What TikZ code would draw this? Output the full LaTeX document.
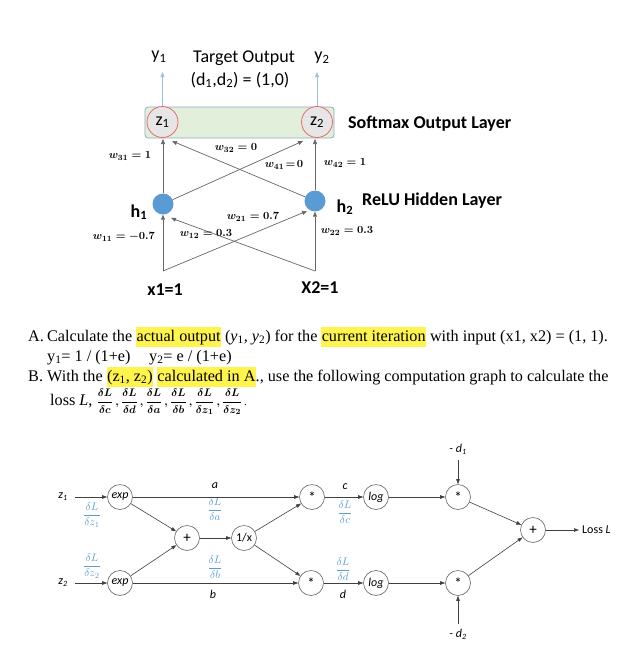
\documentclass[tikz,border=0pt]{standalone}
\usepackage{amsmath}
\usepackage{fontspec}
\setmainfont{Liberation Serif}
\newfontfamily\calib{Carlito}
\usetikzlibrary{arrows.meta}
\definecolor{bandfill}{HTML}{E2EFDA}
\definecolor{banddraw}{HTML}{8FAAC4}
\definecolor{zred}{HTML}{E86A6A}
\definecolor{zfill}{HTML}{E6E6E6}
\definecolor{hblue}{HTML}{5B9BD5}
\definecolor{lblue}{HTML}{9DC3E6}
\definecolor{hly}{HTML}{FFF34D}
\definecolor{linegray}{HTML}{666666}
\newcommand{\hlt}[1]{{\setlength{\fboxsep}{0.3pt}\colorbox{hly}{\strut #1}}}
\newcommand{\dfr}[2]{\ensuremath{\displaystyle\frac{#1}{#2}}}
\begin{document}
\begin{tikzpicture}[x=1pt,y=-1pt,
  zc/.style={circle,draw=zred,fill=zfill,line width=0.8pt,minimum size=31pt,inner sep=0pt,font=\calib\fontsize{18}{19}\selectfont},
  hid/.style={circle,fill=hblue,minimum size=21pt,inner sep=0pt},
  arr/.style={draw=linegray,line width=0.7pt,-{Triangle[length=5pt,width=4pt]}},
  barr/.style={draw=lblue,line width=0.9pt,-{Triangle[length=5pt,width=4pt]}},
  wl/.style={font=\fontsize{11}{12}\selectfont,inner sep=0pt},
  sl/.style={font=\calib\fontsize{18}{20}\selectfont,inner sep=0pt},
  bl/.style={font=\calib\bfseries\fontsize{18}{20}\selectfont,inner sep=0pt},
  txt/.style={anchor=base west,inner sep=0pt,font=\fontsize{16.2}{20}\selectfont},
  op/.style={circle,draw=linegray,line width=0.6pt,minimum size=25pt,inner sep=0pt,font=\calib\fontsize{12}{13}\selectfont},
  big/.style={font=\calib\fontsize{15}{16}\selectfont},
  gl/.style={font=\calib\itshape\fontsize{12}{13}\selectfont,inner sep=0pt},
  gf/.style={text=hblue,font=\fontsize{11}{12}\selectfont,inner sep=0pt},
  garr/.style={draw=black!75,line width=0.6pt,-{Triangle[length=5pt,width=3.5pt]}}
]
\useasboundingbox (0,0) rectangle (644,646);
% ---------- top network ----------
\node[draw=banddraw,fill=bandfill,rounded corners=3pt,line width=0.8pt,minimum width=189pt,minimum height=31pt,inner sep=0pt] (band) at (239.5,122.5) {};
\node[zc] (z1) at (162.5,122) {z\textsubscript{1}};
\node[zc] (z2) at (317,122) {z\textsubscript{2}};
\node[sl] (y1l) at (159,57) {y\textsubscript{1}};
\node[sl] (y2l) at (322,58) {y\textsubscript{2}};
\node[sl] (tgt) at (244,58) {Target Output};
\node[sl] (dd) at (240,80) {(d\textsubscript{1},d\textsubscript{2}) = (1,0)};
\coordinate (y1a) at (162.5,72);
\coordinate (y2a) at (317,72);
\draw[barr] (z1.north) -- (y1a);
\draw[barr] (z2.north) -- (y2a);
\node[bl,anchor=west] (soft) at (348,124) {Softmax Output Layer};
\node[hid] (h1) at (163,204) {};
\node[hid] (h2) at (315,201) {};
\node[bl] (h1l) at (139,212) {h\textsubscript{1}};
\node[bl] (h2l) at (345,207) {h\textsubscript{2}};
\node[bl,anchor=west] (relu) at (362,201) {ReLU Hidden Layer};
\coordinate (x1p) at (163,271);
\coordinate (x2p) at (315,271);
\node[bl] (x1l) at (165,290) {x1=1};
\node[bl] (x2l) at (320,288) {X2=1};
\coordinate (z1b) at (163,139);
\coordinate (z2b) at (315,139);
\coordinate (z1in) at (172,141);
\coordinate (z2in) at (303,141);
\coordinate (h1in) at (171,218);
\coordinate (h2in) at (307,211);
\draw[arr] (x1p) -- (h1);
\draw[arr] (x1p) -- (h2in);
\draw[arr] (x2p) -- (h2);
\draw[arr] (x2p) -- (h1in);
\draw[arr] (h1) -- (z1b);
\draw[arr] (h1) -- (z2in);
\draw[arr] (h2) -- (z1in);
\draw[arr] (h2) -- (z2b);
\node[wl] (w31) at (130,156) {$\boldsymbol{w_{31}=1}$};
\node[wl] (w32) at (236,148) {$\boldsymbol{w_{32}=0}$};
\node[wl] (w41) at (284,165) {$\boldsymbol{w_{41}\!=\!0}$};
\node[wl] (w42) at (345,163) {$\boldsymbol{w_{42}=1}$};
\node[wl] (w21) at (253,217) {$\boldsymbol{w_{21}=0.7}$};
\node[wl] (w12) at (206,234) {$\boldsymbol{w_{12}=0.3}$};
\node[wl] (w11) at (124,237) {$\boldsymbol{w_{11}=-0.7}$};
\node[wl] (w22) at (347,231) {$\boldsymbol{w_{22}=0.3}$};
% ---------- text ----------
\node[txt] (la) at (28,341) {\makebox[19pt][l]{A.}Calculate the \hlt{actual output} (\textit{y}\textsubscript{1}, \textit{y}\textsubscript{2}) for the \hlt{current iteration} with input (x1, x2) = (1, 1).};
\node[txt] (ly) at (47,361) {y\textsubscript{1}= 1 / (1+e)\hspace{0.9em} y\textsubscript{2}= e / (1+e)};
\node[txt] (lb) at (28,381) {\makebox[19pt][l]{B.}With the \hlt{(z\textsubscript{1}, z\textsubscript{2})} \hlt{calculated in A}., use the following computation graph to calculate the};
\node[txt] (ll) at (50,405) {loss \textit{L}, \fontsize{11}{12}\selectfont$\boldsymbol{\dfr{\delta L}{\delta c}\,,\dfr{\delta L}{\delta d}\,,\dfr{\delta L}{\delta a}\,,\dfr{\delta L}{\delta b}\,,\dfr{\delta L}{\delta z_1}\,,\dfr{\delta L}{\delta z_2}}$\,.};
% ---------- computation graph ----------
\node[gl] (gz1) at (63,497) {z\textsubscript{1}};
\node[gl] (gz2) at (63,583) {z\textsubscript{2}};
\node[op] (exp1) at (120,497) {\itshape exp};
\node[op] (exp2) at (120,583) {\itshape exp};
\node[op,big] (plus1) at (187,538) {+};
\node[op] (inv) at (244,538) {1/x};
\node[op,big] (mul1) at (312,497) {*};
\node[op,big] (mul2) at (311,583) {*};
\node[op] (log1) at (376,497) {\itshape log};
\node[op] (log2) at (376,583) {\itshape log};
\node[op,big] (m3) at (458,497) {*};
\node[op,big] (m4) at (458,583) {*};
\node[op,big] (sum) at (533,530) {+};
\node[gl] (nd1) at (458,449) {- d\textsubscript{1}};
\node[gl] (nd2) at (458,634) {- d\textsubscript{2}};
\node[anchor=west,inner sep=0pt,font=\calib\fontsize{12}{13}\selectfont] (loss) at (582,530) {Loss \textit{L}};
\node[gl] (la1) at (215,486) {a};
\node[gl] (lb1) at (213,594) {b};
\node[gl] (lc1) at (345,487) {c};
\node[gl] (ld1) at (343,594) {d};
\node[gf] (fz1) at (92,515) {$\dfr{\delta L}{\delta z_1}$};
\node[gf] (fz2) at (92,566) {$\dfr{\delta L}{\delta z_2}$};
\node[gf] (fa) at (215,509) {$\dfr{\delta L}{\delta a}$};
\node[gf] (fb) at (215,567) {$\dfr{\delta L}{\delta b}$};
\node[gf] (fc) at (345,512) {$\dfr{\delta L}{\delta c}$};
\node[gf] (fd) at (343,569) {$\dfr{\delta L}{\delta d}$};
\coordinate (z1s) at (75,497);
\coordinate (z2s) at (75,583);
\coordinate (d1s) at (458,460);
\coordinate (d2s) at (458,624);
\coordinate (lossend) at (579,530);
\draw[garr] (z1s) -- (exp1);
\draw[garr] (z2s) -- (exp2);
\draw[garr] (exp1) -- (mul1);
\draw[garr] (exp2) -- (mul2);
\draw[garr] (exp1) -- (plus1);
\draw[garr] (exp2) -- (plus1);
\draw[garr] (plus1) -- (inv);
\draw[garr] (inv) -- (mul1);
\draw[garr] (inv) -- (mul2);
\draw[garr] (mul1) -- (log1);
\draw[garr] (mul2) -- (log2);
\draw[garr] (log1) -- (m3);
\draw[garr] (log2) -- (m4);
\draw[garr] (d1s) -- (m3);
\draw[garr] (d2s) -- (m4);
\draw[garr] (m3) -- (sum);
\draw[garr] (m4) -- (sum);
\draw[garr] (sum) -- (lossend);
\end{tikzpicture}
\end{document}
